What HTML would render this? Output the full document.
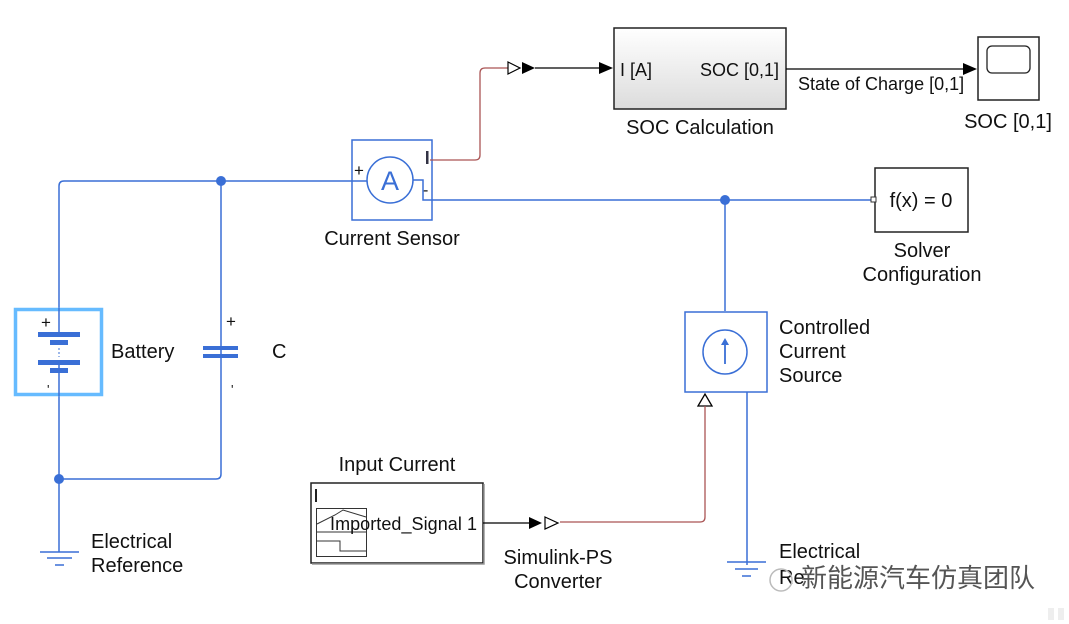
<!DOCTYPE html>
<html><head><meta charset="utf-8"><style>
html,body{margin:0;padding:0;background:#fff;}
svg{display:block;}
text{font-family:"Liberation Sans","Noto Sans CJK SC",sans-serif;fill:#111;}
</style></head><body>
<svg width="1069" height="624" viewBox="0 0 1069 624" xmlns="http://www.w3.org/2000/svg">
<defs>
<linearGradient id="g" x1="0" y1="0" x2="0" y2="1"><stop offset="0" stop-color="#fff"/><stop offset="1" stop-color="#dcdcdc"/></linearGradient>
</defs>
<g fill="none" stroke="#3a6fd6" stroke-width="1.5">
<path d="M59 308 V186 Q59 181 64 181 H370"/>
<path d="M221 181 V474 Q221 479 216 479 H59"/>
<path d="M59 396 V552"/>
<path d="M413 180 H423 V200 H873"/>
<path d="M725 200 V311"/>
<path d="M747 392 V565"/>
</g>
<circle cx="221" cy="181" r="5" fill="#3a6fd6"/>
<circle cx="59" cy="479" r="5" fill="#3a6fd6"/>
<circle cx="725" cy="200" r="5" fill="#3a6fd6"/>
<!-- battery -->
<rect x="15.5" y="309.5" width="86" height="85" fill="#fff" stroke="#66bbff" stroke-width="3.5"/>
<path d="M59 308 V334 M59 362 V396" stroke="#3a6fd6" stroke-width="1.5"/>
<g fill="#3a6fd6">
<rect x="38" y="332" width="42" height="5"/><rect x="50" y="340" width="18" height="5"/>
<rect x="38" y="360" width="42" height="5"/><rect x="50" y="368" width="18" height="5"/>
</g>
<path d="M59 348 V357" stroke="#3a6fd6" stroke-width="1" stroke-dasharray="2 2"/>
<text x="41" y="328" font-size="17" fill="#334">+</text>
<text x="47" y="394" font-size="13" fill="#334">'</text>
<text x="111" y="358" font-size="20">Battery</text>
<!-- capacitor -->
<rect x="203" y="346" width="35" height="4" fill="#3a6fd6"/>
<rect x="203" y="354" width="35" height="4" fill="#3a6fd6"/>
<text x="226" y="327" font-size="17" fill="#334">+</text>
<text x="231" y="394" font-size="13" fill="#334">'</text>
<text x="272" y="358" font-size="20">C</text>
<!-- ground left -->
<path d="M40 552 H79 M47 558 H72 M55 565 H64" stroke="#3a6fd6" stroke-width="1.5"/>
<text x="91" y="548" font-size="20">Electrical</text>
<text x="91" y="572" font-size="20">Reference</text>
<!-- current sensor -->
<rect x="352" y="140" width="80" height="80" fill="none" stroke="#3a6fd6" stroke-width="1.5"/>
<circle cx="390" cy="180" r="23" fill="#fff" stroke="#3a6fd6" stroke-width="1.5"/>
<text x="390" y="190" font-size="27" text-anchor="middle" style="fill:#3a6fd6;font-family:'Liberation Sans',sans-serif">A</text>
<text x="354" y="176" font-size="17" fill="#334">+</text>
<text x="423" y="195" font-size="16" fill="#334">-</text>
<rect x="426" y="151" width="2.5" height="13" fill="#334"/>
<text x="392" y="245" font-size="20" text-anchor="middle">Current Sensor</text>
<!-- red signal -->
<path d="M430 160 H475 Q480 160 480 155 V73 Q480 68 485 68 H508" fill="none" stroke="#a55" stroke-width="1.3"/>
<path d="M508 62 L520 68 L508 74 Z" fill="#fff" stroke="#000" stroke-width="1.2"/>
<path d="M522 62 L535 68 L522 74 Z" fill="#000"/>
<path d="M535 68 H605" stroke="#000" stroke-width="1.2"/>
<path d="M599 62 L613 68 L599 74 Z" fill="#000"/>
<!-- SOC calc -->
<rect x="614" y="28" width="172" height="81" fill="url(#g)" stroke="#222" stroke-width="1.5"/>
<text x="620" y="76" font-size="18">I [A]</text>
<text x="700" y="76" font-size="18">SOC [0,1]</text>
<text x="700" y="134" font-size="20" text-anchor="middle">SOC Calculation</text>
<path d="M786 69 H965" stroke="#000" stroke-width="1.2"/>
<path d="M963 63 L977 69 L963 75 Z" fill="#000"/>
<text x="798" y="90" font-size="18">State of Charge [0,1]</text>
<!-- scope -->
<rect x="978" y="37" width="61" height="63" fill="#fff" stroke="#222" stroke-width="1.5"/>
<rect x="987" y="46" width="43" height="27" rx="5" fill="#fff" stroke="#222" stroke-width="1.3"/>
<text x="1008" y="128" font-size="20" text-anchor="middle">SOC [0,1]</text>
<!-- solver -->
<rect x="875" y="168" width="93" height="64" fill="#fff" stroke="#222" stroke-width="1.5"/>
<rect x="871" y="197" width="5" height="5" fill="#fff" stroke="#333" stroke-width="1"/>
<text x="921" y="207" font-size="20" text-anchor="middle">f(x) = 0</text>
<text x="922" y="257" font-size="20" text-anchor="middle">Solver</text>
<text x="922" y="281" font-size="20" text-anchor="middle">Configuration</text>
<!-- controlled current source -->
<rect x="685" y="312" width="82" height="80" fill="#fff" stroke="#3a6fd6" stroke-width="1.5"/>
<circle cx="725" cy="352" r="22" fill="none" stroke="#3a6fd6" stroke-width="1.5"/>
<path d="M725 364 V342" stroke="#3a6fd6" stroke-width="1.8"/>
<path d="M721 345 L725 338 L729 345 Z" fill="#3a6fd6"/>
<text x="779" y="334" font-size="20">Controlled</text>
<text x="779" y="358" font-size="20">Current</text>
<text x="779" y="382" font-size="20">Source</text>
<path d="M698 406 L705 394 L712 406 Z" fill="#fff" stroke="#000" stroke-width="1.3"/>
<path d="M705 406 V517 Q705 522 700 522 H560" fill="none" stroke="#a55" stroke-width="1.3"/>
<!-- input current -->
<text x="397" y="471" font-size="20" text-anchor="middle">Input Current</text>
<rect x="311" y="483" width="172" height="80" fill="#fff" stroke="#222" stroke-width="1.5"/>
<path d="M312 564 H484 V484" stroke="#999" stroke-width="1.5" fill="none"/>
<rect x="315" y="489" width="2" height="13" fill="#222"/>
<rect x="316.5" y="508.5" width="50" height="48" fill="none" stroke="#333" stroke-width="1"/>
<path d="M317 524 L335 515 L343 510 L366 517 M317 532 H366 M317 541 H340 V551 H366" fill="none" stroke="#333" stroke-width="1"/>
<text x="330" y="530" font-size="18" textLength="147">Imported_Signal 1</text>
<path d="M483 523 H530" stroke="#000" stroke-width="1.2"/>
<path d="M529 517 L542 523 L529 529 Z" fill="#000"/>
<path d="M545 517 L558 523 L545 529 Z" fill="#fff" stroke="#000" stroke-width="1.2"/>
<text x="558" y="564" font-size="20" text-anchor="middle">Simulink-PS</text>
<text x="558" y="588" font-size="20" text-anchor="middle">Converter</text>
<!-- ground right -->
<path d="M727 562 H766 M735 569 H758 M742 576 H751" stroke="#3a6fd6" stroke-width="1.5"/>
<text x="779" y="558" font-size="20">Electrical</text>
<text x="779" y="584" font-size="20">Re</text>
<circle cx="781" cy="580" r="11" fill="none" stroke="#bbb" stroke-width="1.5"/>
<text x="801" y="587" font-size="26" textLength="234" style="fill:#555">新能源汽车仿真团队</text>
<rect x="1048" y="608" width="6" height="12" fill="#eee"/><rect x="1058" y="608" width="6" height="12" fill="#eee"/>
</svg>
</body></html>
